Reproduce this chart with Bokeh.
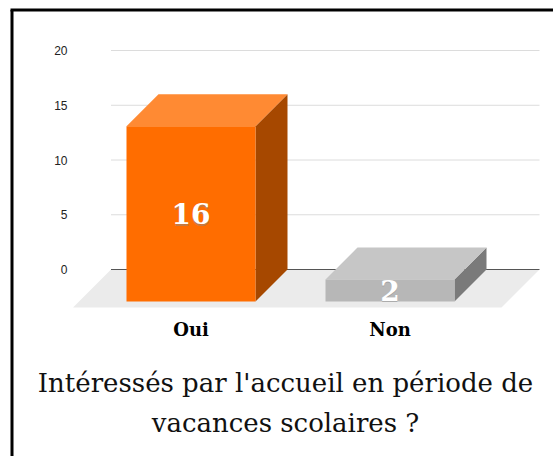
from bokeh.plotting import figure
from bokeh.models import Range1d
from bokeh.core.properties import value
from bokeh.embed import file_html
from bokeh.resources import INLINE

# ---- data ----
categories = ["Oui", "Non"]
counts = [16, 2]
front_colors = ["#ff6d00", "#b7b7b7"]
top_colors = ["#ff8a33", "#c6c6c6"]
side_colors = ["#a64800", "#7a7a7a"]
y_ticks = [0, 5, 10, 15, 20]
tick_labels = ["0", "5", "10", "15", "20"]
title_lines = ["Intéressés par l'accueil en période de", "vacances scolaires ?"]

# ---- geometry (pixel -> data conversion) ----
W, H = 553, 456
ORG = 0               # page offset of the figure
PXX = 199.0           # pixels per category step
PXY = 10.95           # pixels per value unit
X0_PAGE = 190.5       # page x of first category centre
Y0_PAGE = 269.0       # page y of value 0


def xd(px):
    return (px - X0_PAGE) / PXX


def yd(py):
    return (Y0_PAGE - py) / PXY


p = figure(width=W, height=H, output_backend="svg", toolbar_location=None,
           x_range=Range1d(xd(ORG), xd(ORG + W)), y_range=Range1d(yd(ORG + H), yd(ORG)),
           x_axis_location=None, y_axis_location=None, min_border=0)
p.outline_line_color = None
p.xgrid.visible = False
p.ygrid.visible = False
p.background_fill_color = "white"
p.border_fill_color = "white"

BW = 129 / PXX
DX = 32 / PXX
DY = 32 / PXY
FD = 38  # floor depth px

# floor
gx0, gx1 = xd(110.5), xd(539)
p.patch([gx0, gx1, xd(539 - FD), xd(110.5 - FD)], [0, 0, -FD / PXY, -FD / PXY],
        fill_color="#ebebeb", line_color=None)

# gridlines
for t in y_ticks:
    if t == 0:
        continue
    p.line([gx0, gx1], [t, t], line_color="#dcdcdc", line_width=1)
p.line([gx0, gx1], [0, 0], line_color="#555555", line_width=1)

# tick labels
p.text(x=[xd(67)] * len(y_ticks), y=y_ticks, text=tick_labels,
       text_font=value("Liberation Sans"), text_font_size="12px",
       text_align="right", text_baseline="middle", text_color="#222222")

# bars
for i, (c, v) in enumerate(zip(categories, counts)):
    L, R = i - BW / 2, i + BW / 2
    p.patch([R, R + DX, R + DX, R], [-DY, 0, v, v - DY],
            fill_color=side_colors[i], line_color=None)
    p.patch([L, R, R + DX, L + DX], [v - DY, v - DY, v, v],
            fill_color=top_colors[i], line_color=None)
    p.quad(left=[L], right=[R], bottom=[-DY], top=[v - DY],
           fill_color=front_colors[i], line_color=None)

# value labels
lab_x = list(range(len(categories)))
lab_y = [v / 2 - DY for v in counts]
p.text(x=lab_x, y=[yy - 0.12 for yy in lab_y], text=[str(v) for v in counts],
       text_font=value("DejaVu Serif"), text_font_style="bold", text_font_size="28px",
       text_align="center", text_baseline="middle", text_color="#888888", text_alpha=0.5)
p.text(x=lab_x, y=lab_y, text=[str(v) for v in counts],
       text_font=value("DejaVu Serif"), text_font_style="bold", text_font_size="28px",
       text_align="center", text_baseline="middle", text_color="white")

# category labels
p.text(x=lab_x, y=[yd(329)] * 2, text=categories,
       text_font=value("DejaVu Serif"), text_font_style="bold", text_font_size="18px",
       text_align="center", text_baseline="middle", text_color="black")

# title
p.text(x=[xd(285)] * 2, y=[yd(382), yd(422)], text=title_lines,
       text_font=value("DejaVu Serif"), text_font_size="26px",
       text_align="center", text_baseline="alphabetic", text_color="#111111")

# frame border (top and left, as in the reference)
p.line([xd(11.5), xd(11.5)], [yd(ORG + H), yd(9.5)], line_color="black", line_width=3)
p.line([xd(10), xd(ORG + W)], [yd(9.5), yd(9.5)], line_color="black", line_width=3)

open("out.html", "w").write(file_html(p, INLINE))
